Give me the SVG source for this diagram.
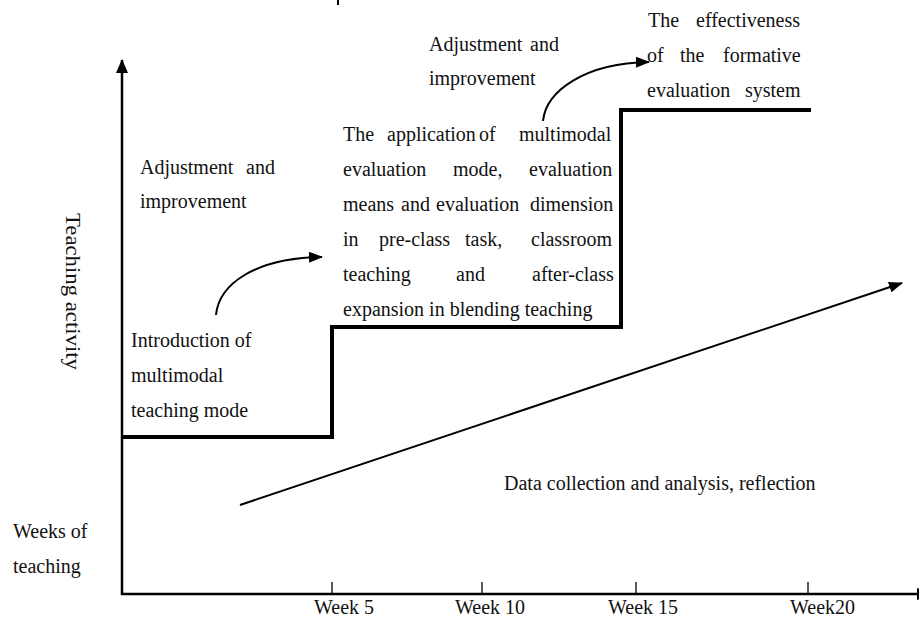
<svg xmlns="http://www.w3.org/2000/svg" width="919" height="619" viewBox="0 0 919 619">
<style>
text{font-family:"Liberation Serif","Times New Roman",serif;font-size:20px;fill:#111}
.ax{stroke:#000;stroke-width:2.5;fill:none}
.step{stroke:#000;stroke-width:4;fill:none}
.thin{stroke:#000;stroke-width:2;fill:none}
.tick{stroke:#000;stroke-width:1.3}
</style>
<defs>
<marker id="ah" markerWidth="14" markerHeight="12" refX="13" refY="6" orient="auto" markerUnits="userSpaceOnUse">
<path d="M0,0 L14,6 L0,12 Z" fill="#000"/>
</marker>
<marker id="ahs" markerWidth="14" markerHeight="11" refX="13" refY="5.5" orient="auto" markerUnits="userSpaceOnUse">
<path d="M0,0 L14,5.5 L0,11 Z" fill="#000"/>
</marker>
</defs>
<rect width="919" height="619" fill="#fff"/>
<line x1="338" y1="0" x2="338" y2="5" class="thin"/>

<g id="axes">
<line x1="122" y1="595" x2="122" y2="60" class="ax" marker-end="url(#ah)"/>
<line x1="121" y1="594" x2="930" y2="594" class="ax" marker-end="url(#ah)"/>
<line x1="332" y1="582" x2="332" y2="594" class="tick"/>
<line x1="482" y1="582" x2="482" y2="594" class="tick"/>
<line x1="636" y1="582" x2="636" y2="594" class="tick"/>
<line x1="808" y1="582" x2="808" y2="594" class="tick"/>
<text x="314" y="614">Week 5</text>
<text x="455" y="614">Week 10</text>
<text x="608" y="614">Week 15</text>
<text x="790" y="614">Week20</text>
<text transform="translate(66,213) rotate(90)" font-size="22" textLength="157" lengthAdjust="spacingAndGlyphs">Teaching activity</text>
<text x="13" y="538">Weeks of</text>
<text x="13" y="573">teaching</text>
</g>

<g id="connectors">
<path d="M122,437 H332 V327 H621 V110 H811" class="step"/>
<line x1="240" y1="505" x2="902" y2="283" class="thin" marker-end="url(#ahs)"/>
<path d="M216,315 C219,284 255,258 322,257" class="thin" marker-end="url(#ahs)"/>
<path d="M543,121 C546,91 585,63 649,62" class="thin" marker-end="url(#ahs)"/>
</g>

<g id="n-intro">
<text x="131" y="347">Introduction of</text>
<text x="131" y="382">multimodal</text>
<text x="131" y="417">teaching mode</text>
</g>

<g id="n-adjust1">
<text y="174"><tspan x="140">Adjustment</tspan><tspan x="246">and</tspan></text>
<text x="140" y="208">improvement</text>
</g>

<g id="n-apply">
<text y="141"><tspan x="343">The</tspan><tspan x="387">application</tspan><tspan x="479">of</tspan><tspan x="519">multimodal</tspan></text>
<text y="176"><tspan x="343">evaluation</tspan><tspan x="453">mode,</tspan><tspan x="529">evaluation</tspan></text>
<text y="211"><tspan x="343">means</tspan><tspan x="401">and</tspan><tspan x="436">evaluation</tspan><tspan x="530">dimension</tspan></text>
<text y="246"><tspan x="343">in</tspan><tspan x="379">pre-class</tspan><tspan x="465">task,</tspan><tspan x="531">classroom</tspan></text>
<text y="281"><tspan x="343">teaching</tspan><tspan x="456">and</tspan><tspan x="532">after-class</tspan></text>
<text x="343" y="316">expansion in blending teaching</text>
</g>

<g id="n-adjust2">
<text y="51"><tspan x="429">Adjustment</tspan><tspan x="530">and</tspan></text>
<text x="429" y="85">improvement</text>
</g>

<g id="n-effect">
<text y="27"><tspan x="648">The</tspan><tspan x="696">effectiveness</tspan></text>
<text y="62"><tspan x="647">of</tspan><tspan x="680">the</tspan><tspan x="723">formative</tspan></text>
<text y="97"><tspan x="647">evaluation</tspan><tspan x="745">system</tspan></text>
</g>

<g id="n-data">
<text x="504" y="490">Data collection and analysis, reflection</text>
</g>
</svg>
